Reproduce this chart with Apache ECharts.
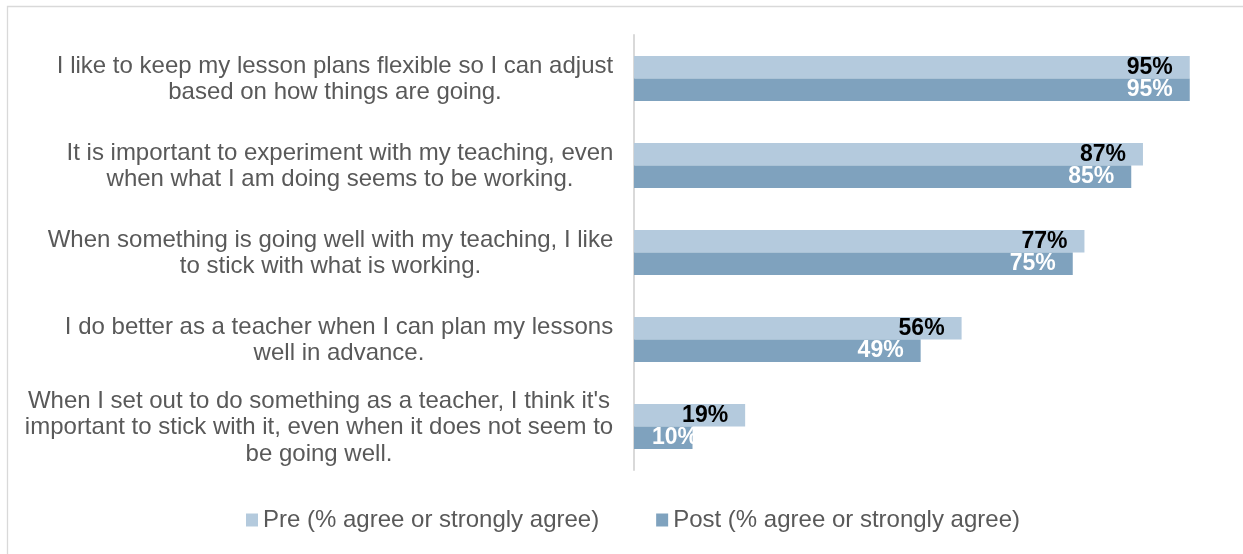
<!DOCTYPE html>
<html>
<head>
<meta charset="utf-8">
<script src="https://cdn.jsdelivr.net/npm/echarts@6/dist/echarts.min.js"></script>
<style>
  html, body { margin: 0; padding: 0; background: #fff; }
  #chart { width: 1243px; height: 554px; }
</style>
</head>
<body>
<div id="chart"></div>
<script>
// Survey statements (line breaks as laid out on the axis)
const categories = [
  "I like to keep my lesson plans flexible so I can adjust\nbased on how things are going.",
  "It is important to experiment with my teaching, even\nwhen what I am doing seems to be working.",
  "When something is going well with my teaching, I like\nto stick with what is working.",
  "I do better as a teacher when I can plan my lessons\nwell in advance.",
  "When I set out to do something as a teacher, I think it's\nimportant to stick with it, even when it does not seem to\nbe going well."
];
const seriesNames = ["Pre (% agree or strongly agree)", "Post (% agree or strongly agree)"];
const preValues = [95, 87, 77, 56, 19];
const postValues = [95, 85, 75, 49, 10];

const FONT = '"Liberation Sans", Arial, sans-serif';
const LABEL_SIZE = 24;
const GREY = '#595959';

// Measure each statement's widest line so its lines can be centred within a right-aligned block
const ctx = document.createElement('canvas').getContext('2d');
ctx.font = LABEL_SIZE + 'px ' + FONT;
const rich = {};
categories.forEach((c, i) => {
  const w = Math.max(...c.split('\n').map(l => ctx.measureText(l).width));
  rich['c' + i] = {
    width: Math.ceil(w) + 1,
    align: 'center',
    fontSize: LABEL_SIZE,
    fontFamily: FONT,
    color: GREY,
    lineHeight: 26.5,
    padding: [2, 0, 0, 0]
  };
});

const chart = echarts.init(document.getElementById('chart'), null, { renderer: 'canvas' });

const valueLabel = (color) => ({
  show: true,
  position: 'insideRight',
  distance: 17,
  formatter: '{c}%',
  color: color,
  fontWeight: 'bold',
  fontSize: 23,
  fontFamily: FONT
});

const postData = postValues.map(v => (v < 20
  ? { value: v, label: { position: 'insideLeft', distance: 18 } }
  : v));

chart.setOption({
  animation: false,
  backgroundColor: '#fff',
  graphic: [{
    type: 'rect',
    shape: { x: 7.5, y: 6.5, width: 1260, height: 580 },
    style: { fill: 'none', stroke: '#D9D9D9', lineWidth: 1.3 },
    silent: true,
    z: -1
  }],
  grid: { left: 634, right: 24, top: 35, bottom: 84 },
  legend: {
    left: 241,
    top: 503,
    icon: 'rect',
    itemWidth: 12,
    itemHeight: 13,
    itemGap: 57,
    textStyle: { color: GREY, fontSize: 24, fontFamily: FONT },
    data: seriesNames
  },
  xAxis: {
    type: 'value',
    min: 0,
    max: 100,
    show: false,
    splitLine: { show: false }
  },
  yAxis: {
    type: 'category',
    inverse: true,
    data: categories,
    axisTick: { show: false },
    axisLine: { show: true, lineStyle: { color: '#D9D9D9', width: 2 } },
    axisLabel: {
      margin: 20,
      formatter: (value, index) => '{c' + index + '|' + value + '}',
      rich: rich
    }
  },
  series: [
    {
      name: seriesNames[0],
      type: 'bar',
      data: preValues,
      barWidth: 22.5,
      barGap: '0%',
      itemStyle: { color: '#B4CADD' },
      label: valueLabel('#000000')
    },
    {
      name: seriesNames[1],
      type: 'bar',
      data: postData,
      barWidth: 22.5,
      barGap: '0%',
      itemStyle: { color: '#7FA2BE' },
      label: valueLabel('#FFFFFF')
    }
  ]
});
</script>
</body>
</html>
